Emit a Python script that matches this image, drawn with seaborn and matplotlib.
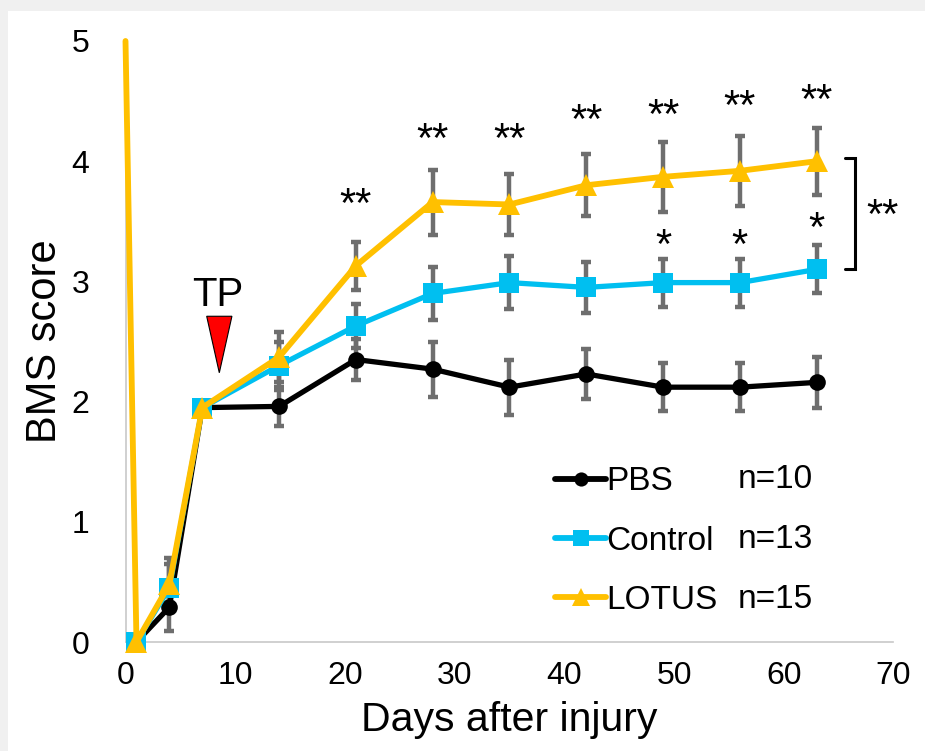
import numpy as np
import pandas as pd
import matplotlib
matplotlib.use("Agg")
import matplotlib.pyplot as plt
from matplotlib.patches import Rectangle, Polygon
import seaborn as sns

# ---------------- data ----------------
days = [0, 1, 4, 7, 14, 21, 28, 35, 42, 49, 56, 63]
pbs_days = [1, 4, 7, 14, 21, 28, 35, 42, 49, 56, 63]
pbs = [0.0, 0.29, 1.95, 1.96, 2.35, 2.27, 2.12, 2.23, 2.12, 2.12, 2.16]
pbs_err = [0.0, 0.20, 0.0, 0.16, 0.17, 0.23, 0.23, 0.21, 0.20, 0.20, 0.21]
ctrl_days = [1, 4, 7, 14, 21, 28, 35, 42, 49, 56, 63]
ctrl = [0.0, 0.45, 1.95, 2.30, 2.63, 2.90, 2.99, 2.95, 2.99, 2.99, 3.10]
ctrl_err = [0.0, 0.20, 0.0, 0.20, 0.18, 0.22, 0.22, 0.21, 0.20, 0.20, 0.20]
lotus_days = days
lotus = [5.0, 0.0, 0.48, 1.95, 2.37, 3.13, 3.66, 3.64, 3.80, 3.87, 3.92, 4.00]
lotus_err = [0.0, 0.0, 0.22, 0.0, 0.21, 0.20, 0.27, 0.25, 0.26, 0.29, 0.29, 0.28]

group_names = ["PBS", "Control", "LOTUS"]
group_n = ["n=10", "n=13", "n=15"]

x_ticks = [0, 10, 20, 30, 40, 50, 60, 70]
y_ticks = [0, 1, 2, 3, 4, 5]

# significance marks (centre of the star glyphs)
sig_days = [21, 28, 35, 42, 49, 56, 63]
sig_lotus_y = [3.74, 4.28, 4.28, 4.44, 4.48, 4.56, 4.61]
sig1_days = [49, 56, 63]
sig1_y = [3.40, 3.40, 3.54]

# bracket & TP marker
bracket_x = [65.6, 66.5]
bracket_y = [3.10, 4.03]
bracket_label_xy = (69.0, 3.65)
tp_x, tp_halfw, tp_top, tp_tip = 8.55, 1.15, 2.71, 2.24
tp_text_xy = (8.4, 2.89)

# ---------------- style ----------------
sns.set_theme(style="white")
plt.rcParams["font.family"] = ["Liberation Sans", "DejaVu Sans"]
plt.rcParams["text.color"] = "black"
plt.rcParams["axes.labelcolor"] = "black"

C_PBS = "#000000"
C_CTRL = "#00BFF0"
C_LOTUS = "#FFC000"
C_ERR = "#6E6E6E"
STAR_FS = 30
STAR_OFF = 0.205  # baseline offset so the glyph centre sits at the target

fig = plt.figure(figsize=(9.25, 7.51), dpi=100)
fig.patch.set_facecolor("#F0F0F0")
fig.patches.append(Rectangle((8 / 925, -0.05), 1.1, 1.05 - 11 / 751, transform=fig.transFigure,
                             facecolor="white", edgecolor="none", zorder=-5))
ax = fig.add_axes([125.5 / 925, 1 - 642 / 751, 768 / 925, 601 / 751])
ax.set_facecolor("none")

def errbars(xs, ys, es):
    xs, ys, es = np.asarray(xs, float), np.asarray(ys, float), np.asarray(es, float)
    m = es > 0
    ax.errorbar(xs[m], ys[m], yerr=es[m], fmt="none", ecolor=C_ERR, elinewidth=3.2,
                capsize=3.5, capthick=3.2, zorder=2)

errbars(pbs_days, pbs, pbs_err)
errbars(ctrl_days, ctrl, ctrl_err)
errbars(lotus_days, lotus, lotus_err)

sns.lineplot(x=pbs_days, y=pbs, ax=ax, color=C_PBS, lw=3.8, marker="o", markersize=12,
             markeredgewidth=0, label=group_names[0], zorder=3)
sns.lineplot(x=ctrl_days, y=ctrl, ax=ax, color=C_CTRL, lw=3.8, marker="s", markersize=14,
             markeredgewidth=0, label=group_names[1], zorder=4)
sns.lineplot(x=lotus_days, y=lotus, ax=ax, color=C_LOTUS, lw=4.2, marker="^", markersize=16,
             markeredgewidth=0, markevery=list(range(1, len(lotus_days))),
             label=group_names[2], zorder=5)
for ln in ax.lines:
    ln.set_clip_on(False)

ax.set_xlim(0, 70)
ax.set_ylim(0, 5)
ax.set_xticks(x_ticks)
ax.set_yticks(y_ticks)
ax.tick_params(axis="both", length=0, labelsize=23, colors="black")
ax.tick_params(axis="x", pad=14)
ax.tick_params(axis="y", pad=26)
for s in ["top", "right"]:
    ax.spines[s].set_visible(False)
for s in ["left", "bottom"]:
    ax.spines[s].set_color("#C8C8C8")
    ax.spines[s].set_linewidth(1.2)
    ax.spines[s].set_zorder(1)

ax.set_xlabel("Days after injury", fontsize=29.5, labelpad=7)
ax.set_ylabel("BMS score", fontsize=30, labelpad=5)

# stars
for d, y in zip(sig_days, sig_lotus_y):
    ax.text(d, y - STAR_OFF, "**", fontsize=STAR_FS, ha="center", va="baseline")
for d, y in zip(sig1_days, sig1_y):
    ax.text(d, y - STAR_OFF, "*", fontsize=STAR_FS, ha="center", va="baseline")

# bracket
ax.plot([bracket_x[0], bracket_x[1], bracket_x[1], bracket_x[0]],
        [bracket_y[1], bracket_y[1], bracket_y[0], bracket_y[0]],
        color="black", lw=2.2, clip_on=False, solid_joinstyle="miter")
ax.text(bracket_label_xy[0], bracket_label_xy[1] - STAR_OFF, "**", fontsize=STAR_FS,
        ha="center", va="baseline")

# TP arrow
ax.add_patch(Polygon([[tp_x - tp_halfw, tp_top], [tp_x + tp_halfw, tp_top], [tp_x, tp_tip]],
                     closed=True, facecolor="#FF0000", edgecolor="black", lw=0.8, zorder=6))
ax.text(tp_text_xy[0], tp_text_xy[1], "TP", fontsize=29, ha="center", va="center")

# legend
leg = ax.legend(loc="center left", bbox_to_anchor=(0.559, 0.168), frameon=False,
                fontsize=24, handlelength=1.55, handletextpad=0.0, labelspacing=0.85,
                borderpad=0, borderaxespad=0, markerscale=0.85)
for h in leg.get_lines():
    h.set_linewidth(4.2)
leg_y = [1.35, 0.85, 0.35]
for t, y in zip(group_n, leg_y):
    ax.text(55.8, y, t, fontsize=24, ha="left", va="center")

fig.savefig("out.png", dpi=100, facecolor=fig.get_facecolor())
